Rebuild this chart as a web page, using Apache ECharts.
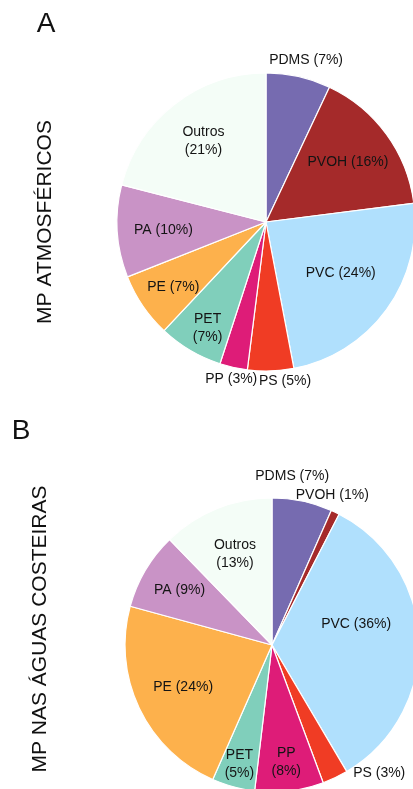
<!DOCTYPE html>
<html>
<head>
<meta charset="utf-8">
<script src="https://cdn.jsdelivr.net/npm/echarts@6/dist/echarts.min.js"></script>
<style>
  html, body { margin: 0; padding: 0; background: #ffffff; }
  #chart { width: 413px; height: 789px; }
</style>
</head>
<body>
<div id="chart"></div>
<script>
// Polymer categories, in clockwise order from 12 o'clock
const polymers = ['PDMS', 'PVOH', 'PVC', 'PS', 'PP', 'PET', 'PE', 'PA', 'Outros'];

// Share (%) of each polymer
const atmosfericos = [7, 16, 24, 5, 3, 7, 7, 10, 21];
const aguasCosteiras = [7, 1, 36, 3, 8, 5, 24, 9, 13];

// Panel letters and side titles
const panelLetters = ['A', 'B'];
const panelTitles = ['MP ATMOSFÉRICOS', 'MP NAS ÁGUAS COSTEIRAS'];

// Slice colours, one per polymer
const colors = ['#766bb0', '#a52a2a', '#b0e0fd', '#f03c24', '#de1c78',
                '#80cfbb', '#fdb14c', '#c993c6', '#f4fdf7'];

const FONT = '"Liberation Sans", Arial, Helvetica, sans-serif';

// Layout of each panel: pie centre/radius, labels that break onto two lines,
// and label placement [radius factor, x nudge, y nudge] per slice.
const panels = [
  {
    values: atmosfericos, cx: 266, cy: 222, r: 149,
    wrap: ['Outros', 'PET'],
    place: [[1.11, 4, 0], [0.68, 0, 0], [0.62, 0, -3], [1.075, 14, -1], [1.07, 0, 2],
            [0.81, 3, 2], [0.76, 1, 1], [0.69, 0, 2], [0.685, 0, 0]]
  },
  {
    values: aguasCosteiras, cx: 272, cy: 645, r: 147,
    wrap: ['Outros', 'PET', 'PP'],
    place: [[1.13, -14, -6], [1.08, -8, -7], [0.6, -4, -18], [1.0, 44, -5], [0.82, 0, -3],
            [0.84, 0, 0], [0.67, 0, 0], [0.73, 0, 0], [0.67, 0, 0]]
  }
];

function makeLabelLayout(p) {
  const total = p.values.reduce((a, b) => a + b, 0);
  const mids = [];
  let acc = 0;
  p.values.forEach(v => { mids.push(acc + v / 2); acc += v; });
  return function (params) {
    const i = params.dataIndex;
    const th = mids[i] / total * 2 * Math.PI;
    const [k, nx, ny] = p.place[i];
    return {
      x: p.cx + k * p.r * Math.sin(th) + nx,
      y: p.cy - k * p.r * Math.cos(th) + ny,
      align: 'center',
      verticalAlign: 'middle'
    };
  };
}

const series = panels.map(p => ({
  type: 'pie',
  center: [p.cx, p.cy],
  radius: p.r,
  startAngle: 90,
  clockwise: true,
  avoidLabelOverlap: false,
  animation: false,
  silent: true,
  data: polymers.map((name, i) => ({
    name: name,
    value: p.values[i],
    itemStyle: { color: colors[i] }
  })),
  itemStyle: { borderColor: '#ffffff', borderWidth: 1.2 },
  label: {
    show: true,
    position: 'inside',
    formatter: d => p.wrap.includes(d.name)
      ? d.name + '\n(' + d.value + '%)'
      : d.name + ' (' + d.value + '%)',
    color: '#141414',
    fontSize: 14,
    fontFamily: FONT,
    lineHeight: 18
  },
  labelLine: { show: false },
  emphasis: { disabled: true },
  labelLayout: makeLabelLayout(p)
}));

const letterPos = [[46, 24], [21, 431]];
const titlePos = [[45, 222], [40, 629]];

const graphic = [];
panelLetters.forEach((t, i) => {
  graphic.push({
    type: 'text', x: letterPos[i][0], y: letterPos[i][1], silent: true,
    style: { text: t, fill: '#111111', font: '28px ' + FONT, align: 'center', verticalAlign: 'middle' }
  });
});
panelTitles.forEach((t, i) => {
  graphic.push({
    type: 'text', x: titlePos[i][0], y: titlePos[i][1], rotation: Math.PI / 2, silent: true,
    style: { text: t, fill: '#111111', font: '21px ' + FONT, align: 'center', verticalAlign: 'middle' }
  });
});

const chart = echarts.init(document.getElementById('chart'), null, { renderer: 'canvas' });
chart.setOption({
  backgroundColor: '#ffffff',
  animation: false,
  series: series,
  graphic: graphic
});
</script>
</body>
</html>
